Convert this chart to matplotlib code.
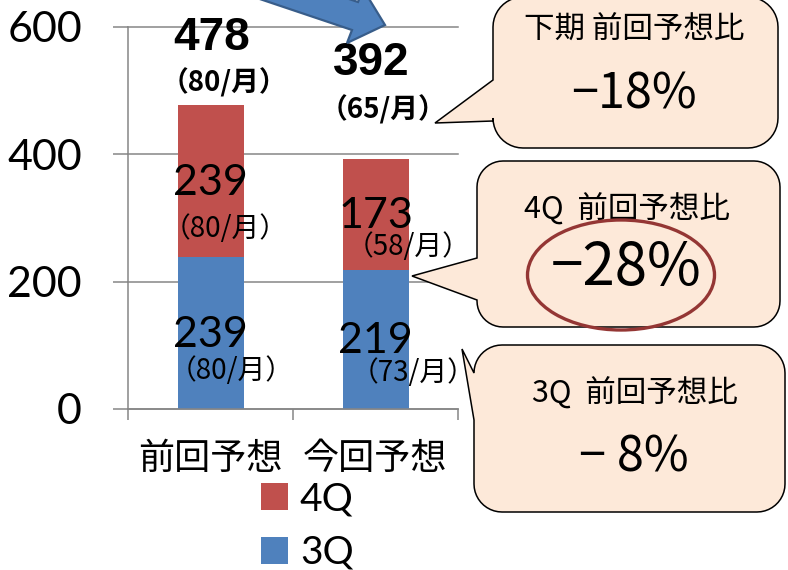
import matplotlib
matplotlib.use('Agg')
import matplotlib.pyplot as plt
import numpy as np
from matplotlib.patches import Polygon, Ellipse, Patch

# ---------------- data ----------------
categories = ['前回予想', '今回予想']
q3_values = [239, 219]
q4_values = [239, 173]
q3_monthly = ['（80/月）', '（73/月）']
q4_monthly = ['（80/月）', '（58/月）']
total_monthly = ['（80/月）', '（65/月）']
series_names = ['4Q', '3Q']
y_ticks = [0, 200, 400, 600]
callout_titles = ['下期 前回予想比', '4Q  前回予想比', '3Q  前回予想比']
callout_values = ['−18%', '−28%', '− 8%']

# ---------------- style ----------------
W, H = 788, 570
C3 = '#4F81BD'
C4 = '#C0504D'
GRAY = '#868686'
PEACH = '#FDE9D9'
CJK = ['Noto Sans CJK JP', 'DejaVu Sans']
NUM = ['Lato', 'DejaVu Sans']
PT = 0.72  # points per pixel at dpi 100


def fx(x):
    return x / W


def fy(y):
    return 1 - y / H


fig = plt.figure(figsize=(W / 100, H / 100), dpi=100)
fig.patch.set_facecolor('white')
ax = fig.add_axes([fx(128), fy(409), 330 / W, 382 / H])

x = np.arange(len(categories))
totals = [a + b for a, b in zip(q3_values, q4_values)]
ax.bar(x, q3_values, width=0.4, color=C3, zorder=2)
ax.bar(x, q4_values, bottom=q3_values, width=0.4, color=C4, zorder=2)

ax.set_xlim(-0.5, 1.5)
ax.set_ylim(0, 600)
for s in ['top', 'right']:
    ax.spines[s].set_visible(False)
for s in ['left', 'bottom']:
    ax.spines[s].set_color(GRAY)
    ax.spines[s].set_linewidth(1.1)
ax.yaxis.grid(True, color=GRAY, linewidth=1.1, zorder=0)
ax.set_axisbelow(True)
for gl in ax.get_ygridlines():
    gl.set_clip_on(False)

ax.set_yticks(y_ticks)
ax.set_yticklabels([str(v) for v in y_ticks], fontfamily=NUM, fontsize=31)
ax.tick_params(axis='y', length=15 * PT, width=1.1, color=GRAY, pad=31 * PT)

ax.set_xticks(x)
ax.set_xticklabels(categories, fontfamily=CJK, fontsize=26)
ax.set_xticks([-0.5, 0.5, 1.5], minor=True)
ax.tick_params(axis='x', which='major', length=0, pad=32 * PT)
ax.tick_params(axis='x', which='minor', length=11 * PT, width=1.1, color=GRAY)

# ---------------- bar labels ----------------
q4_sub_off = [(15, 48), (33, 33)]
q3_sub_off = [(21, 38), (38, 34)]
for i in range(len(categories)):
    m4 = q3_values[i] + q4_values[i] / 2
    m3 = q3_values[i] / 2
    ax.annotate(str(q4_values[i]), (x[i], m4), xytext=(0, -2 * PT),
                textcoords='offset points', ha='center', va='center',
                fontsize=31, fontfamily=NUM, zorder=5)
    ax.annotate(q4_monthly[i], (x[i], m4),
                xytext=(q4_sub_off[i][0] * PT, -q4_sub_off[i][1] * PT),
                textcoords='offset points', ha='center', va='center',
                fontsize=20, fontfamily=CJK, zorder=5)
    ax.annotate(str(q3_values[i]), (x[i], m3), xytext=(0, -2 * PT),
                textcoords='offset points', ha='center', va='center',
                fontsize=31, fontfamily=NUM, zorder=5)
    ax.annotate(q3_monthly[i], (x[i], m3),
                xytext=(q3_sub_off[i][0] * PT, -q3_sub_off[i][1] * PT),
                textcoords='offset points', ha='center', va='center',
                fontsize=20, fontfamily=CJK, zorder=5)

tot_off = [(1.5, 67), (-4, 96)]
tot_sub_off = [(13.5, 22), (7, 50)]
for i in range(len(categories)):
    ax.annotate(str(totals[i]), (x[i], totals[i]),
                xytext=(tot_off[i][0] * PT, tot_off[i][1] * PT),
                textcoords='offset points', ha='center', va='center',
                fontsize=33, fontweight='bold',
                fontfamily=['Liberation Sans', 'DejaVu Sans'],
                annotation_clip=False, zorder=6)
    ax.annotate(total_monthly[i], (x[i], totals[i]),
                xytext=(tot_sub_off[i][0] * PT, tot_sub_off[i][1] * PT),
                textcoords='offset points', ha='center', va='center',
                fontsize=20, fontweight='bold', fontfamily=CJK,
                annotation_clip=False, zorder=6)

# ---------------- legend ----------------
handles = [Patch(facecolor=C4, label=series_names[0]),
           Patch(facecolor=C3, label=series_names[1])]
fig.legend(handles=handles, loc='upper left',
           bbox_to_anchor=(fx(261), fy(481)), frameon=False,
           prop={'family': NUM, 'size': 28},
           handlelength=0.69, handleheight=0.69, handletextpad=0.31,
           labelspacing=0.46, borderpad=0, borderaxespad=0)

# ---------------- arrow ----------------
arrow_px = [(233, -10), (352, 30), (347, 43), (385, 25), (363, -11),
            (358, 2), (322, -10)]
fig.patches.append(Polygon([(fx(a), fy(b)) for a, b in arrow_px],
                           closed=True, facecolor=C3, edgecolor='#385D8A',
                           linewidth=1.6, transform=fig.transFigure,
                           zorder=10))


# ---------------- callouts ----------------
def callout_path(x0, y0, x1, y1, r, pa, tip, pb):
    pts = []

    def arc(cx, cy, a0, a1):
        t = np.linspace(np.radians(a0), np.radians(a1), 12)
        return [(cx + r * np.cos(v), cy + r * np.sin(v)) for v in t]

    pts += arc(x0 + r, y0 + r, 180, 270)       # top-left
    pts += arc(x1 - r, y0 + r, 270, 360)       # top-right
    pts += arc(x1 - r, y1 - r, 0, 90)          # bottom-right
    pts += arc(x0 + r, y1 - r, 90, 180)        # bottom-left
    pts += [(x0, pb), tip, (x0, pa)]
    return [(fx(a), fy(b)) for a, b in pts]


boxes = [
    dict(x0=493, x1=778, y0=-3, y1=148, r=30, pa=80, tip=(435, 123), pb=121),
    dict(x0=477, x1=780, y0=161, y1=327, r=26, pa=258, tip=(412, 276), pb=300),
    dict(x0=474, x1=785, y0=345, y1=512, r=28, pa=373, tip=(462, 349), pb=420),
]
for b in boxes:
    fig.patches.append(Polygon(callout_path(b['x0'], b['y0'], b['x1'], b['y1'],
                                            b['r'], b['pa'], b['tip'], b['pb']),
                               closed=True, facecolor=PEACH, edgecolor='black',
                               linewidth=1.1, transform=fig.transFigure,
                               zorder=11))

title_pos = [(634, 30), (627, 209), (635, 393)]
value_pos = [(634, 95), (626, 268), (634, 458)]
value_size = [35, 42, 35]
for i in range(3):
    fig.text(fx(title_pos[i][0]), fy(title_pos[i][1]), callout_titles[i],
             ha='center', va='center', fontsize=22, fontfamily=CJK, zorder=12)
    fig.text(fx(value_pos[i][0]), fy(value_pos[i][1]), callout_values[i],
             ha='center', va='center', fontsize=value_size[i],
             fontfamily=CJK, zorder=12)

fig.patches.append(Ellipse((fx(621), fy(275)), 187 / W, 110 / H,
                           facecolor='none', edgecolor='#943634',
                           linewidth=2.4, transform=fig.transFigure, zorder=13))

fig.savefig('out.png', dpi=100)
